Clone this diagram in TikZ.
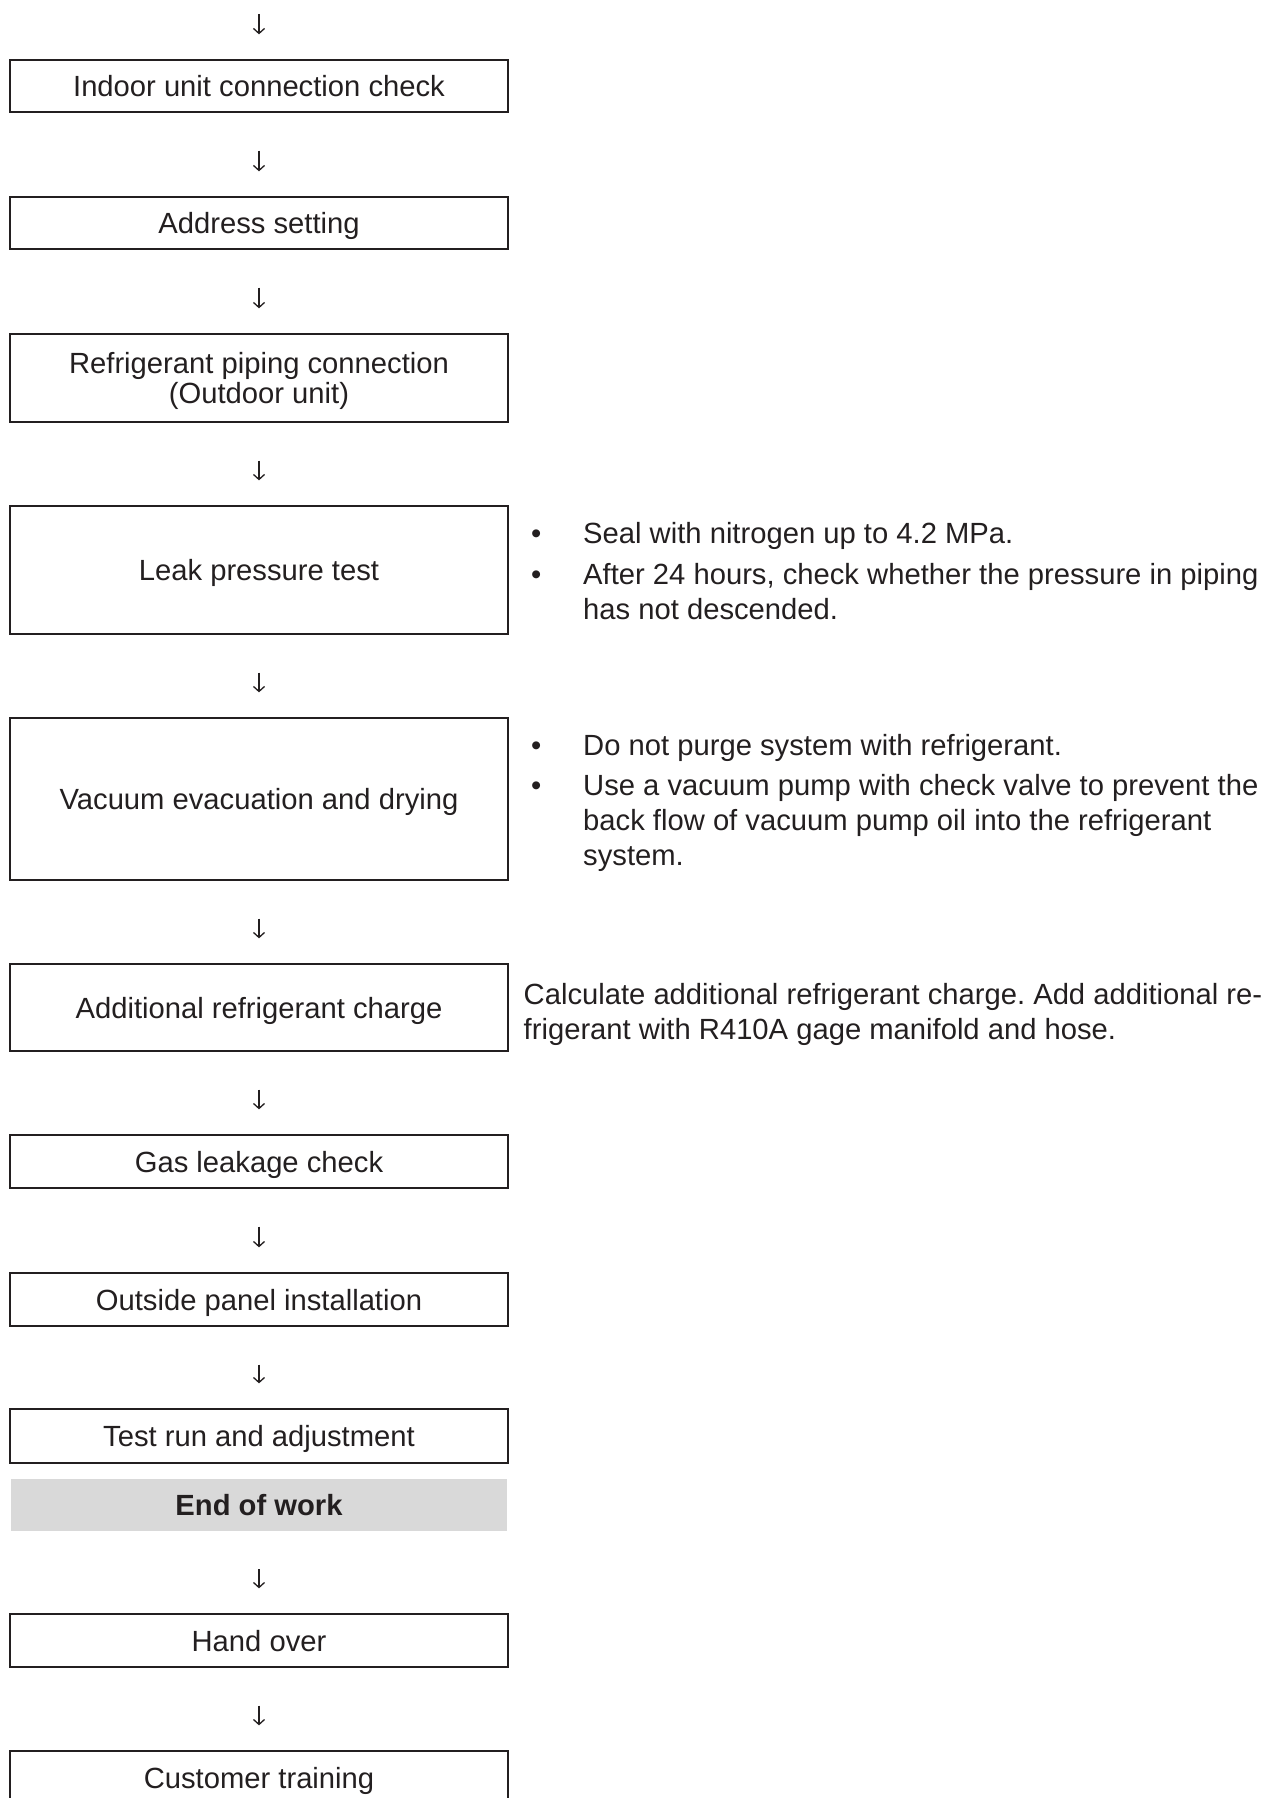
\documentclass[tikz,border=0pt]{standalone}
\usepackage{fontspec}
\setmainfont{Liberation Sans}
\usetikzlibrary{arrows.meta}
\definecolor{ink}{HTML}{231F20}
\definecolor{endgray}{HTML}{D9D9D9}
\frenchspacing
\begin{document}
\begin{tikzpicture}[x=1pt,y=-1pt,
  stepbox/.style={draw=ink, line width=1.3pt, minimum width=498pt, inner sep=0pt, align=center, text=ink, text height=21pt, text depth=0pt, font=\fontsize{29.2}{30}\selectfont},
  endbox/.style={fill=endgray, minimum width=496pt, minimum height=52pt, inner sep=0pt, text=ink, text height=21pt, text depth=0pt, font=\fontsize{29.2}{30}\selectfont\bfseries},
  note/.style={anchor=base west, inner sep=0pt, text=ink, font=\fontsize{29.2}{35}\selectfont},
  flow/.style={draw=ink, line width=1.3pt, -{Straight Barb[length=5pt,width=11pt]}, shorten <=38pt, shorten >=25pt}]
\useasboundingbox (0,0) rectangle (1279,1798);
\coordinate (entry) at (259,14);
\node[stepbox, minimum height=52pt] (indoor) at (259,86) {Indoor unit connection check};
\node[stepbox, minimum height=52pt] (address) at (259,223) {Address setting};
\node[stepbox, minimum height=88pt, text height=51pt] (piping) at (259,378) {Refrigerant piping connection\\(Outdoor unit)};
\node[stepbox, minimum height=128pt] (leak) at (259,570) {Leak pressure test};
\node[stepbox, minimum height=162pt] (vacuum) at (259,799) {Vacuum evacuation and drying};
\node[stepbox, minimum height=87pt] (charge) at (259,1007.5) {Additional refrigerant charge};
\node[stepbox, minimum height=53pt] (gasleak) at (259,1161.5) {Gas leakage check};
\node[stepbox, minimum height=53pt] (panel) at (259,1299.5) {Outside panel installation};
\node[stepbox, minimum height=54pt] (testrun) at (259,1436) {Test run and adjustment};
\node[endbox] (endwork) at (259,1505) {End of work};
\node[stepbox, minimum height=53pt] (handover) at (259,1640.5) {Hand over};
\node[stepbox, minimum height=53pt] (training) at (259,1777.5) {Customer training};
% notes beside the steps
\node[note] (leaknote) at (531,543) {\begin{tabular}[t]{@{}p{52pt}@{}l@{}}
\textbullet & Seal with nitrogen up to 4.2 MPa.\\[6pt]
\textbullet & After 24 hours, check whether the pressure in piping\\
 & has not descended.
\end{tabular}};
\node[note] (vacuumnote) at (531,755) {\begin{tabular}[t]{@{}p{52pt}@{}l@{}}
\textbullet & Do not purge system with refrigerant.\\[5pt]
\textbullet & Use a vacuum pump with check valve to prevent the\\
 & back flow of vacuum pump oil into the refrigerant\\
 & system.
\end{tabular}};
\node[note] (chargenote) at (523.5,1004) {\begin{tabular}[t]{@{}l@{}}
Calculate additional refrigerant charge. Add additional re-\\
frigerant with R410A gage manifold and hose.
\end{tabular}};
% arrows
\draw[flow, shorten <=0pt] (entry) -- (indoor);
\draw[flow] (indoor) -- (address);
\draw[flow] (address) -- (piping);
\draw[flow] (piping) -- (leak);
\draw[flow] (leak) -- (vacuum);
\draw[flow] (vacuum) -- (charge);
\draw[flow] (charge) -- (gasleak);
\draw[flow] (gasleak) -- (panel);
\draw[flow] (panel) -- (testrun);
\draw[flow] (endwork) -- (handover);
\draw[flow] (handover) -- (training);
\end{tikzpicture}
\end{document}
